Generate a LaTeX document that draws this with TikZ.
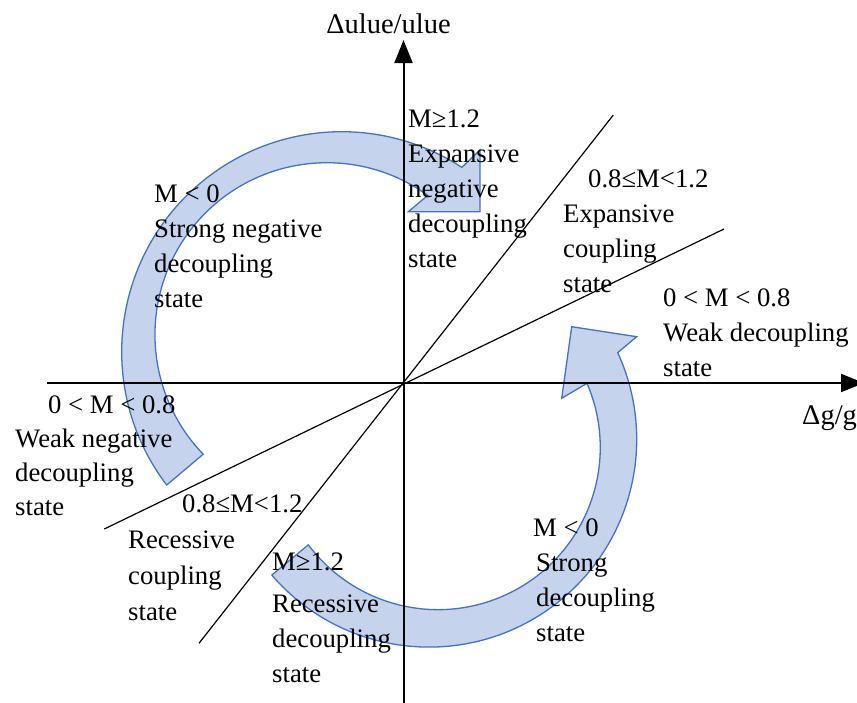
\documentclass[tikz,border=0pt]{standalone}
\usepackage{fontspec}
\setmainfont{Liberation Serif}
\usetikzlibrary{arrows.meta}
\definecolor{arrowfill}{RGB}{197,211,236}
\definecolor{arrowline}{RGB}{68,114,196}
\begin{document}
\begin{tikzpicture}[x=1pt,y=1pt,
  axis/.style={line width=2pt, -{Triangle[length=23pt,width=18pt]}},
  divline/.style={line width=1.2pt},
  bigarrow/.style={fill=arrowfill, draw=arrowline, line width=1.3pt, line join=miter},
  lbl/.style={font=\fontsize{26.7}{35}\selectfont, align=left, inner sep=0pt, anchor=north west},
  axlbl/.style={font=\fontsize{28.5}{34}\selectfont, inner sep=0pt}]
\useasboundingbox (0,0) rectangle (857,-702);
% curved arrows
\path[bigarrow] (166.7,-485) arc[start angle=217.3, end angle=56.9, radius=220]
  -- (480,-150) -- (480,-211.7) -- (408.3,-211.7) -- (427.8,-195.4)
  arc[start angle=54.1, end angle=224, radius=172] -- cycle;
\path[bigarrow] (271.8,-575.1) arc[start angle=220.8, end angle=384.7, radius=207.7]
  -- (636.7,-336.7) -- (571.7,-326.7) -- (561.7,-398.3) -- (587.0,-383.3)
  arc[start angle=23.3, end angle=-143.1, radius=162.2] -- cycle;
% coordinates
\coordinate (O) at (403.5,-383);
\coordinate (ytop) at (403.5,-40);
\coordinate (ybot) at (403.5,-705);
\coordinate (xl) at (47,-383);
\coordinate (xr) at (864,-383);
\coordinate (s1) at (613.3,-115);
\coordinate (s2) at (199,-643.3);
\coordinate (f1) at (724,-229);
\coordinate (f2) at (104.3,-529);
% lines
\draw[divline] (s2) -- (s1);
\draw[divline] (f2) -- (f1);
\draw[axis] (ybot) -- (ytop);
\draw[axis] (xl) -- (xr);
% axis labels
\node[axlbl, anchor=base] (ylab) at (388.5,-33) {Δulue/ulue};
\node[axlbl, anchor=base west] (xlab) at (802,-424) {Δg/g};
% region labels
\node[lbl] (expneg) at (408,-102.5) {\strut M≥1.2\\Expansive\\negative\\decoupling\\state};
\node[lbl] (expcoup) at (563,-162.5) {\strut\hspace*{25pt}0.8≤M<1.2\\Expansive\\coupling\\state};
\node[lbl] (weak) at (663,-281.5) {\strut 0 < M < 0.8\\Weak decoupling\\state};
\node[lbl] (strongneg) at (154,-177.5) {\strut M < 0\\Strong negative\\decoupling\\state};
\node[lbl, font=\fontsize{26.7}{34}\selectfont] (weakneg) at (15,-389.5) {\strut\hspace*{33pt}0 < M < 0.8\\Weak negative\\decoupling\\state};
\node[lbl, font=\fontsize{26.7}{36}\selectfont] (reccoup) at (128,-487.5) {\strut\hspace*{54pt}0.8≤M<1.2\\Recessive\\coupling\\state};
\node[lbl] (recdec) at (272,-545.5) {\strut M≥1.2\\[7pt]Recessive\\decoupling\\state};
\node[lbl] (strong) at (533,-511.5) {\strut M < 0\\\hspace*{3pt}Strong\\\hspace*{3pt}decoupling\\\hspace*{3pt}state};
\end{tikzpicture}
\end{document}
